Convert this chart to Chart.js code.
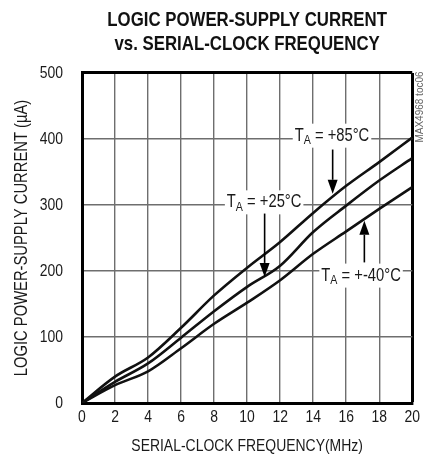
<!DOCTYPE html>
<html>
<head>
<meta charset="utf-8">
<script src="https://cdn.jsdelivr.net/npm/chart.js@4"></script>
<style>
  html, body { margin: 0; padding: 0; background: #fff; }
  #wrap { width: 424px; height: 461px; position: relative; }
</style>
</head>
<body>
<div id="wrap"><canvas id="c" width="424" height="461"></canvas></div>
<script>
// ---- data ----
const freqMHz     = [0, 2, 4, 6, 8, 10, 12, 14, 16, 18, 20];
const current85C  = [0, 40, 69, 114, 163, 205, 244, 288, 329, 365, 402];
const current25C  = [0, 32, 60, 99, 139, 176, 208, 259, 299, 337, 371];
const currentM40C = [0, 27, 48, 83, 120, 152, 186, 226, 260, 294, 327];
const xTickValues = [0, 2, 4, 6, 8, 10, 12, 14, 16, 18, 20];
const yTickValues = [0, 100, 200, 300, 400, 500];

const titleLines = ['LOGIC POWER-SUPPLY CURRENT', 'vs. SERIAL-CLOCK FREQUENCY'];
const xTitle = 'SERIAL-CLOCK FREQUENCY(MHz)';
const yTitle = 'LOGIC POWER-SUPPLY CURRENT (\u00B5A)';

const FONT = "'Liberation Sans', Arial, sans-serif";

// Condensed look: draw all text narrowed horizontally (like Arial Narrow)
const HSCALE = 0.82;
const _fill = CanvasRenderingContext2D.prototype.fillText;
const _measure = CanvasRenderingContext2D.prototype.measureText;
CanvasRenderingContext2D.prototype.fillText = function (t, x, y, maxW) {
  this.save();
  this.translate(x, y);
  this.scale(HSCALE, 1);
  if (maxW !== undefined) _fill.call(this, t, 0, 0, maxW / HSCALE);
  else _fill.call(this, t, 0, 0);
  this.restore();
};
CanvasRenderingContext2D.prototype.measureText = function (t) {
  const m = _measure.call(this, t);
  return {
    width: m.width * HSCALE,
    actualBoundingBoxAscent: m.actualBoundingBoxAscent,
    actualBoundingBoxDescent: m.actualBoundingBoxDescent,
    actualBoundingBoxLeft: m.actualBoundingBoxLeft * HSCALE,
    actualBoundingBoxRight: m.actualBoundingBoxRight * HSCALE
  };
};

// curve callouts (anchored in data space)
const callouts = [
  { rest: ' = +85\u00B0C',  cx: 15.14, cy: 405, ax: 15.18, aFrom: 384, aTo: 317 },
  { rest: ' = +25\u00B0C',  cx: 11.03, cy: 304, ax: 11.06, aFrom: 287, aTo: 191 },
  { rest: ' = +-40\u00B0C', cx: 16.90, cy: 193, ax: 17.10, aFrom: 213, aTo: 276 }
];

function pts(ys) { return freqMHz.map((x, i) => ({ x: x, y: ys[i] })); }

const calloutPlugin = {
  id: 'callouts',
  afterDatasetsDraw(chart) {
    const ctx = chart.ctx;
    const xs = chart.scales.x, ys = chart.scales.y;
    ctx.save();
    callouts.forEach(c => {
      const cx = xs.getPixelForValue(c.cx);
      const cy = ys.getPixelForValue(c.cy);
      const mainFont = '18px ' + FONT;
      const subFont = '13px ' + FONT;
      ctx.font = mainFont;
      const wT = ctx.measureText('T').width;
      const wRest = ctx.measureText(c.rest).width;
      ctx.font = subFont;
      const wA = ctx.measureText('A').width;
      const w = wT + wA + wRest;
      const x0 = cx - w / 2;
      ctx.fillStyle = '#fff';
      ctx.fillRect(x0 - 2, cy - 12, w + 4, 24);
      ctx.fillStyle = '#1a1a1a';
      ctx.textBaseline = 'middle';
      ctx.textAlign = 'left';
      ctx.font = mainFont;
      ctx.fillText('T', x0, cy);
      ctx.font = subFont;
      ctx.fillText('A', x0 + wT, cy + 5);
      ctx.font = mainFont;
      ctx.fillText(c.rest, x0 + wT + wA, cy);
      // arrow
      const ax = xs.getPixelForValue(c.ax);
      const y1 = ys.getPixelForValue(c.aFrom);
      const y2 = ys.getPixelForValue(c.aTo);
      const dir = y2 > y1 ? 1 : -1;
      const headLen = 14, headHalf = 5;
      ctx.strokeStyle = '#000';
      ctx.lineWidth = 1.6;
      ctx.beginPath();
      ctx.moveTo(ax, y1);
      ctx.lineTo(ax, y2 - dir * headLen);
      ctx.stroke();
      ctx.fillStyle = '#000';
      ctx.beginPath();
      ctx.moveTo(ax, y2);
      ctx.lineTo(ax - headHalf, y2 - dir * headLen);
      ctx.lineTo(ax + headHalf, y2 - dir * headLen);
      ctx.closePath();
      ctx.fill();
    });
    // side note (regular width)
    ctx.translate(420.5, 107);
    ctx.rotate(-Math.PI / 2);
    ctx.font = '10px ' + FONT;
    ctx.fillStyle = '#666';
    ctx.textAlign = 'center';
    ctx.textBaseline = 'middle';
    _fill.call(ctx, 'MAX4968 toc06', 0, 0);
    ctx.restore();
  }
};

const gridColor = '#6e6e6e';

new Chart(document.getElementById('c'), {
  type: 'line',
  data: {
    datasets: [
      { label: 'TA = +85°C', data: pts(current85C) },
      { label: 'TA = +25°C', data: pts(current25C) },
      { label: 'TA = -40°C', data: pts(currentM40C) }
    ].map(d => Object.assign(d, {
      borderColor: '#111', borderWidth: 2.6, pointRadius: 0,
      cubicInterpolationMode: 'monotone', fill: false
    }))
  },
  options: {
    responsive: false,
    animation: false,
    devicePixelRatio: 1,
    layout: { padding: { left: 0, right: 11, top: 0, bottom: 0 } },
    plugins: {
      legend: { display: false },
      tooltip: { enabled: false },
      title: {
        display: true,
        fullSize: false,
        text: titleLines,
        color: '#111',
        font: { family: FONT, size: 20.5, weight: 'bold', lineHeight: 1.17 },
        padding: { top: 8, bottom: 17 }
      }
    },
    scales: {
      x: {
        type: 'linear', min: 0, max: 20,
        afterBuildTicks: s => { s.ticks = xTickValues.map(v => ({ value: v })); },
        afterFit: s => { s.height = 58; },
        ticks: { color: '#1a1a1a', font: { family: FONT, size: 17 }, padding: 4, maxRotation: 0, autoSkip: false },
        grid: {
          drawTicks: false,
          color: ctx => (ctx.tick && ctx.tick.value === 20) ? '#000' : gridColor,
          lineWidth: ctx => (ctx.tick && ctx.tick.value === 20) ? 3 : 1.4
        },
        border: { display: true, color: '#000', width: 3 },
        title: { display: true, text: xTitle, color: '#1a1a1a', font: { family: FONT, size: 17 }, padding: { top: 0, bottom: 4 } }
      },
      y: {
        type: 'linear', min: 0, max: 500,
        afterBuildTicks: s => { s.ticks = yTickValues.map(v => ({ value: v })); },
        afterFit: s => { s.width = 82; },
        ticks: { color: '#1a1a1a', font: { family: FONT, size: 17 }, padding: 19 },
        grid: {
          drawTicks: false,
          color: ctx => (ctx.tick && ctx.tick.value === 500) ? '#000' : gridColor,
          lineWidth: ctx => (ctx.tick && ctx.tick.value === 500) ? 3 : 1.4
        },
        border: { display: true, color: '#000', width: 3 },
        title: { display: true, text: yTitle, color: '#1a1a1a', font: { family: FONT, size: 18 }, padding: { top: 11, bottom: 0 } }
      }
    }
  },
  plugins: [calloutPlugin]
});
</script>
</body>
</html>
